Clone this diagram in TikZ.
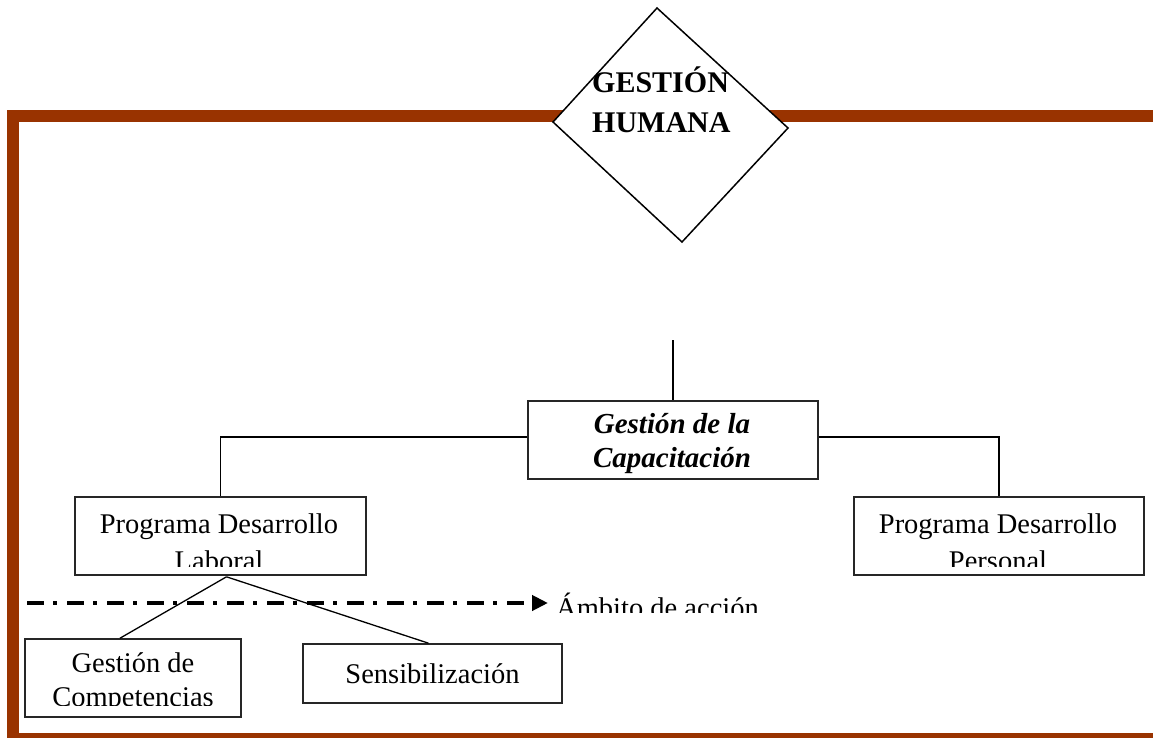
\documentclass[tikz,border=0pt]{standalone}
\usepackage{fontspec}
\setmainfont{Liberation Serif}
\usetikzlibrary{arrows.meta,calc}
\definecolor{framebrown}{HTML}{993300}
\begin{document}
\begin{tikzpicture}[x=1pt,y=-1pt,
  frameline/.style={draw=framebrown, line width=12pt, line join=miter},
  boxnode/.style={draw=black!85, line width=1.6pt, fill=white, inner sep=0pt},
  conn/.style={draw=black, line width=1.3pt},
  txt/.style={inner sep=0pt, font=\fontsize{28.5}{34}\selectfont},
  boldtxt/.style={inner sep=0pt, font=\fontsize{30}{36}\selectfont\bfseries},
  bitxt/.style={inner sep=0pt, font=\fontsize{29}{34}\selectfont\bfseries\itshape},
  dashdot/.style={line width=4pt, dash pattern=on 17pt off 9pt on 4pt off 10pt}]
\useasboundingbox (0,0) rectangle (1153,738);
\clip (0,0) rectangle (1153,738);
% frame
\draw[frameline] (1170,116) -- (12.5,116) -- (12.5,739) -- (1170,739);
% diamond
\draw[line width=1.5pt, fill=white] (657,8) -- (788,128) -- (682,242) -- (553,122) -- cycle;
\node[boldtxt, anchor=base west] (gh1) at (592,93) {GESTIÓN};
\node[boldtxt, anchor=base west] (gh2) at (592,133) {HUMANA};
% boxes
\node[boxnode, minimum width=290pt, minimum height=78pt] (cap) at (673,440) {};
\node[bitxt, anchor=base] (cap1) at (672,433) {Gestión de la};
\node[bitxt, anchor=base] (cap2) at (672,467) {Capacitación};
\node[boxnode, minimum width=291pt, minimum height=78pt] (lab) at (220.5,536) {};
\node[boxnode, minimum width=290pt, minimum height=78pt] (per) at (999,536) {};
\node[boxnode, minimum width=216pt, minimum height=78pt] (comp) at (133,678) {};
\node[boxnode, minimum width=259pt, minimum height=59pt] (sens) at (432.5,673.5) {};
\node[txt, anchor=base] (lab1) at (219,533) {Programa Desarrollo};
\node[txt, anchor=base] (per1) at (998,533) {Programa Desarrollo};
\node[txt, anchor=base] (comp1) at (133,672) {Gestión de};
\node[txt, anchor=base] (sens1) at (432.5,683) {Sensibilización};
\begin{scope}
  \clip (75,540) rectangle (366,566);
  \node[txt, anchor=base] (lab2) at (219,570) {Laboral};
\end{scope}
\begin{scope}
  \clip (854,540) rectangle (1144,566);
  \node[txt, anchor=base] (per2) at (998,570) {Personal};
\end{scope}
\begin{scope}
  \clip (27,680) rectangle (240,705);
  \node[txt, anchor=base] (comp2) at (133,706) {Competencias};
\end{scope}
\begin{scope}
  \clip (550,580) rectangle (800,612);
  \node[txt, anchor=base west] (amb) at (556,617) {Ámbito de acción};
\end{scope}
% dash-dot arrow
\coordinate (arrs) at (27,603);
\coordinate (arre) at (548,603);
\draw[dashdot, -{Triangle[length=16pt,width=15pt]}] (arrs) -- (arre);
% connectors
\coordinate (captop) at (673,340);
\draw[conn] (captop) -- (cap.north);
\draw[conn] ($(cap.west)+(0,-3)$) -| (lab.north);
\draw[conn] ($(cap.east)+(0,-3)$) -| (per.north);
\coordinate (apex) at ($(lab.south)+(6,1)$);
\draw[conn] (apex) -- ($(comp.north)+(-13,0)$);
\draw[conn] (apex) -- ($(sens.north)+(-4,0)$);
\end{tikzpicture}
\end{document}
